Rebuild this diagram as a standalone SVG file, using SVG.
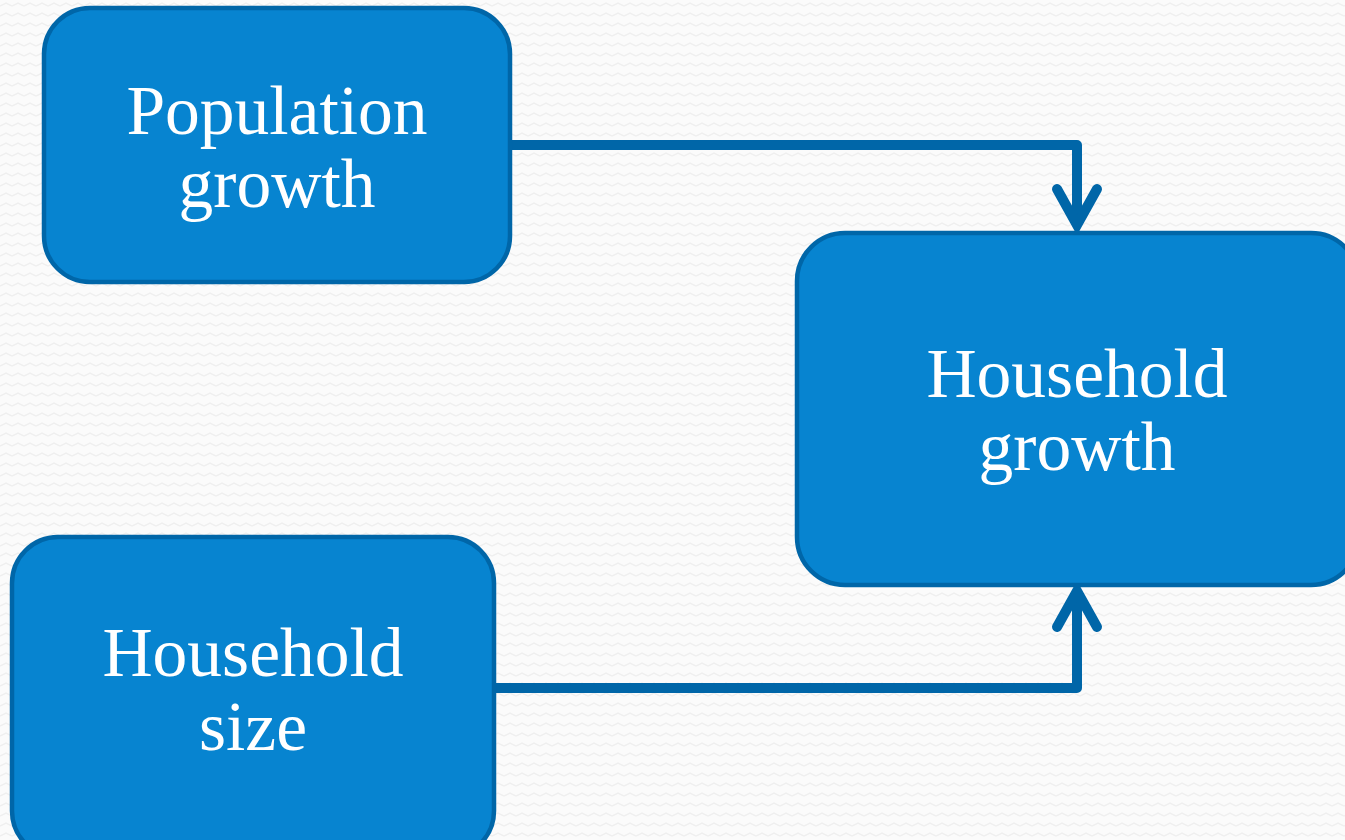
<svg xmlns="http://www.w3.org/2000/svg" width="1345" height="840" viewBox="0 0 1345 840">
<style>
.node{fill:#0784D0;stroke:#0066A8;stroke-width:4.5}
.lbl{font-family:"Liberation Serif","DejaVu Serif",serif;font-size:69.5px;fill:#ffffff;text-anchor:middle}
.conn{fill:none;stroke:#0066A8;stroke-width:10;stroke-linejoin:round;stroke-linecap:butt}
.head{fill:none;stroke:#0066A8;stroke-width:10;stroke-linejoin:miter;stroke-linecap:round}
</style>
<defs>
<pattern id="zz" width="12" height="10" patternUnits="userSpaceOnUse">
<path d="M0 6 L6 3 L12 6" fill="none" stroke="#efefef" stroke-width="1.5"/>
</pattern>
</defs>
<rect width="1345" height="840" fill="#fbfbfb"/>
<rect width="1345" height="840" fill="url(#zz)"/>
<g id="connectors">
<path class="conn" d="M510 145 H1077 V222"/>
<path class="head" d="M1057 189 L1077 225 L1097 189"/>
<path class="conn" d="M494 688 H1077 V596"/>
<path class="head" d="M1057 627 L1077 591 L1097 627"/>
</g>
<g id="population-growth">
<rect class="node" x="44" y="8" width="466" height="274" rx="46"/>
<text class="lbl" x="277" y="134">Population</text>
<text class="lbl" x="277" y="207">growth</text>
</g>
<g id="household-growth">
<rect class="node" x="797" y="233" width="562" height="352" rx="48"/>
<text class="lbl" x="1077" y="397">Household</text>
<text class="lbl" x="1077" y="470">growth</text>
</g>
<g id="household-size">
<rect class="node" x="12" y="537" width="482" height="320" rx="46"/>
<text class="lbl" x="253" y="676">Household</text>
<text class="lbl" x="253" y="750">size</text>
</g>
</svg>
